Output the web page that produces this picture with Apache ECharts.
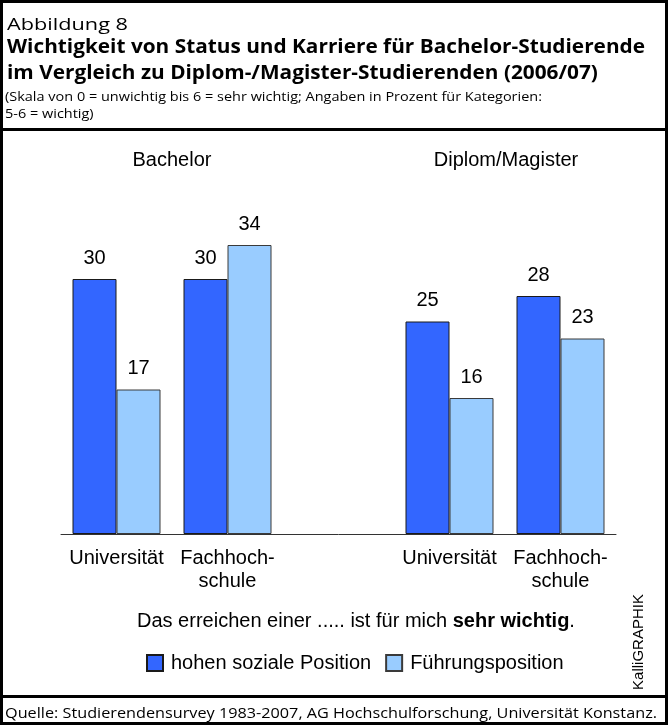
<!DOCTYPE html>
<html>
<head>
<meta charset="utf-8">
<script src="https://cdn.jsdelivr.net/npm/echarts@6/dist/echarts.min.js"></script>
<style>
html,body{margin:0;padding:0;background:#fff;}
#chart{width:668px;height:725px;}
</style>
</head>
<body>
<div id="chart"></div>
<script>
// ---- data ----
const categories = ['Universität', 'Fachhoch-\nschule', '', 'Universität', 'Fachhoch-\nschule'];
const hoheSozialePosition = [30, 30, null, 25, 28];
const fuehrungsposition = [17, 34, null, 16, 23];
const seriesNames = ['hohen soziale Position', 'Führungsposition'];
const groupLabels = ['Bachelor', 'Diplom/Magister'];
const headerLabel = 'Abbildung 8';
const titleLines = ['Wichtigkeit von Status und Karriere für Bachelor-Studierende',
                    'im Vergleich zu Diplom-/Magister-Studierenden (2006/07)'];
const subtitleLines = ['(Skala von 0 = unwichtig bis 6 = sehr wichtig; Angaben in Prozent für Kategorien:',
                       '5-6 = wichtig)'];
const footerText = 'Quelle: Studierendensurvey 1983-2007, AG Hochschulforschung, Universität Konstanz.';
const creditText = 'KalliGRAPHIK';

const ARIAL = '"Liberation Sans", Arial, sans-serif';
const HUM = '"Open Sans", "Noto Sans", sans-serif';

const ctx = document.createElement('canvas').getContext('2d');
function fitScale(text, size, weight, target) {
  ctx.font = weight + ' ' + size + 'px ' + HUM;
  const w = ctx.measureText(text).width;
  return w > 0 ? target / w : 1;
}
function hText(text, x, y, size, weight, scaleX) {
  return {
    type: 'text', x: x, y: y, scaleX: scaleX,
    style: { text: text, fontFamily: HUM, fontSize: size, fontWeight: weight,
             fill: '#000', align: 'left', verticalAlign: 'middle' }
  };
}
const sHead = fitScale(headerLabel, 17, 'normal', 121);
const sTitle = fitScale(titleLines[0], 19.5, 'bold', 638);
const sSub = fitScale(subtitleLines[0], 13.5, 'normal', 537);
const sFoot = fitScale(footerText, 14.5, 'normal', 652);

const chart = echarts.init(document.getElementById('chart'), null, { renderer: 'canvas' });

const graphics = [
  { type: 'rect', shape: { x: 1.5, y: 1.5, width: 665, height: 722 },
    style: { fill: 'none', stroke: '#000', lineWidth: 3 } },
  { type: 'line', shape: { x1: 0, y1: 129.5, x2: 668, y2: 129.5 },
    style: { stroke: '#000', lineWidth: 3 } },
  { type: 'line', shape: { x1: 0, y1: 696.5, x2: 668, y2: 696.5 },
    style: { stroke: '#000', lineWidth: 3 } },
  hText(headerLabel, 7, 25, 17, 'normal', sHead),
  hText(titleLines[0], 7, 47, 19.5, 'bold', sTitle),
  hText(titleLines[1], 7, 73.5, 19.5, 'bold', sTitle),
  hText(subtitleLines[0], 5, 97, 13.5, 'normal', sSub),
  hText(subtitleLines[1], 5, 114, 13.5, 'normal', sSub),
  hText(footerText, 5, 713.5, 14.5, 'normal', sFoot),
  { type: 'text', x: 639, y: 642, rotation: Math.PI / 2,
    style: { text: creditText, fontFamily: ARIAL, fontSize: 15, fill: '#000',
             align: 'center', verticalAlign: 'middle' } },
  { type: 'text', x: 137, y: 621,
    style: { text: 'Das erreichen einer ..... ist für mich {b|sehr wichtig}.',
             fontFamily: ARIAL, fontSize: 20, fill: '#000',
             align: 'left', verticalAlign: 'middle',
             rich: { b: { fontFamily: ARIAL, fontSize: 20, fontWeight: 'bold', fill: '#000' } } } }
];

const option = {
  animation: false,
  backgroundColor: '#fff',
  grid: { left: 61, right: 52, top: 194, bottom: 191, containLabel: false },
  legend: {
    data: seriesNames,
    left: 146, top: 653, padding: 0,
    itemWidth: 16, itemHeight: 16, itemGap: 14,
    icon: 'rect',
    textStyle: { fontFamily: ARIAL, fontSize: 20, color: '#000', padding: [0, 0, 0, 3] }
  },
  xAxis: {
    type: 'category',
    data: categories,
    axisLine: { lineStyle: { color: '#333', width: 1 } },
    axisTick: { length: 6, lineStyle: { color: '#333' } },
    axisLabel: { fontFamily: ARIAL, fontSize: 20, color: '#000', margin: 13, lineHeight: 23,
                 interval: 0 }
  },
  yAxis: { type: 'value', min: 0, max: 40, show: false, splitLine: { show: false } },
  series: [
    { name: seriesNames[0], type: 'bar', data: hoheSozialePosition, barWidth: 44, barGap: '0%',
      itemStyle: { color: '#3366FF', borderColor: '#1a1a1a', borderWidth: 1 },
      label: { show: true, position: 'top', distance: 11, fontFamily: ARIAL, fontSize: 20, color: '#000' } },
    { name: seriesNames[1], type: 'bar', data: fuehrungsposition, barWidth: 44,
      itemStyle: { color: '#99CCFF', borderColor: '#3a3a3a', borderWidth: 1 },
      label: { show: true, position: 'top', distance: 11, fontFamily: ARIAL, fontSize: 20, color: '#000' } }
  ],
  graphic: graphics
};
chart.setOption(option);

// group headings centred over their category pairs
const g0 = (chart.convertToPixel({ xAxisIndex: 0 }, 0) + chart.convertToPixel({ xAxisIndex: 0 }, 1)) / 2;
const g1 = (chart.convertToPixel({ xAxisIndex: 0 }, 3) + chart.convertToPixel({ xAxisIndex: 0 }, 4)) / 2;
chart.setOption({
  graphic: graphics.concat([
    { type: 'text', x: g0, y: 160.5, style: { text: groupLabels[0], fontFamily: ARIAL, fontSize: 20, fill: '#000', align: 'center', verticalAlign: 'middle' } },
    { type: 'text', x: g1 + 1, y: 160.5, style: { text: groupLabels[1], fontFamily: ARIAL, fontSize: 20, fill: '#000', align: 'center', verticalAlign: 'middle' } }
  ])
});
</script>
</body>
</html>
